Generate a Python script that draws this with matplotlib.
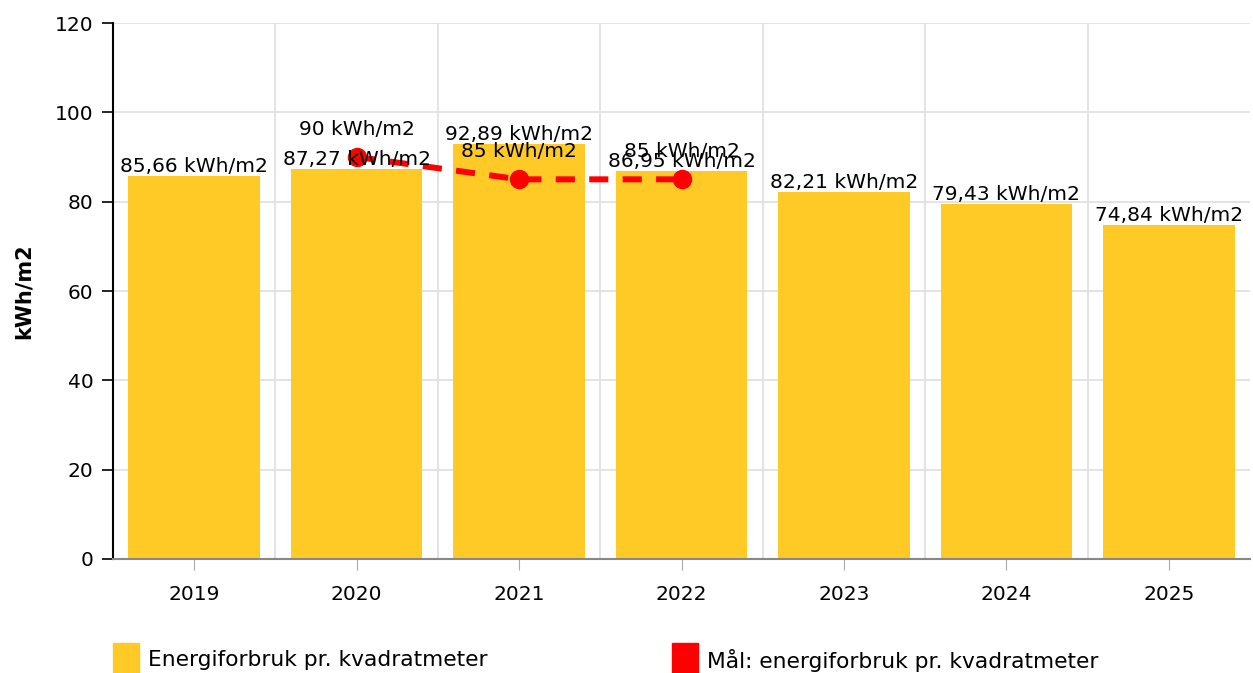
import matplotlib.pyplot as plt
from matplotlib.patches import Rectangle

# Data
years = ["2019", "2020", "2021", "2022", "2023", "2024", "2025"]
usage = [85.66, 87.27, 92.89, 86.95, 82.21, 79.43, 74.84]
target_years = ["2020", "2021", "2022"]
target = [90, 85, 85]

bar_color = "#FFC926"
line_color = "#FF0000"

def fmt(v):
    s = ("%.2f" % v).rstrip("0").rstrip(".")
    return s.replace(".", ",") + " kWh/m2"

W, H = 1253, 673
fig = plt.figure(figsize=(W / 100, H / 100), dpi=100)
ax = fig.add_axes([113 / W, (H - 559) / H, (1250 - 113) / W, (559 - 23) / H])

x = list(range(len(years)))
ax.bar(x, usage, width=0.81, color=bar_color, zorder=2)
for xi, v in zip(x, usage):
    ax.annotate(fmt(v), (xi, v), xytext=(0, 0), textcoords="offset points",
                ha="center", va="bottom", fontsize=14.5, zorder=5)

tx = [years.index(y) for y in target_years]
ax.plot(tx, target, color=line_color, lw=4.3, ls=(0, (3.2, 2.4)), marker="o",
        markersize=13, zorder=4)
for xi, v in zip(tx, target):
    ax.annotate(fmt(v), (xi, v), xytext=(0, 13), textcoords="offset points",
                ha="center", va="bottom", fontsize=14.5, zorder=5)

ax.set_xlim(-0.5, len(years) - 0.5)
ax.set_ylim(0, 120)
ax.set_yticks(range(0, 121, 20))
ax.set_xticks(x)
ax.set_xticklabels(years)
ax.set_xticks([i + 0.5 for i in x[:-1]], minor=True)
ax.grid(axis="y", color="#e0e0e0", lw=1.3, zorder=0)
ax.grid(axis="x", which="minor", color="#e0e0e0", lw=1.3, zorder=0)
ax.tick_params(axis="x", which="major", length=8, color="#aaaaaa", labelsize=14.5, pad=11)
ax.tick_params(axis="x", which="minor", length=0)
ax.tick_params(axis="y", length=8, width=1.2, labelsize=14.5, pad=6)
for s in ["top", "right"]:
    ax.spines[s].set_visible(False)
ax.spines["left"].set_linewidth(1.5)
ax.spines["bottom"].set_color("#888888")
ax.spines["bottom"].set_linewidth(1.5)
ax.set_ylabel("kWh/m2", fontsize=15, fontweight="bold", labelpad=15)

# Legend
fig.add_artist(Rectangle((113 / W, 0), 26 / W, 30 / H, transform=fig.transFigure,
                         color=bar_color))
fig.text(148 / W, 13 / H, "Energiforbruk pr. kvadratmeter", fontsize=15.7, va="center")
fig.add_artist(Rectangle((672 / W, 0), 26 / W, 30 / H, transform=fig.transFigure,
                         color=line_color))
fig.text(707 / W, 13 / H, "Mål: energiforbruk pr. kvadratmeter", fontsize=15.7, va="center")

fig.savefig("out.png", dpi=100)
